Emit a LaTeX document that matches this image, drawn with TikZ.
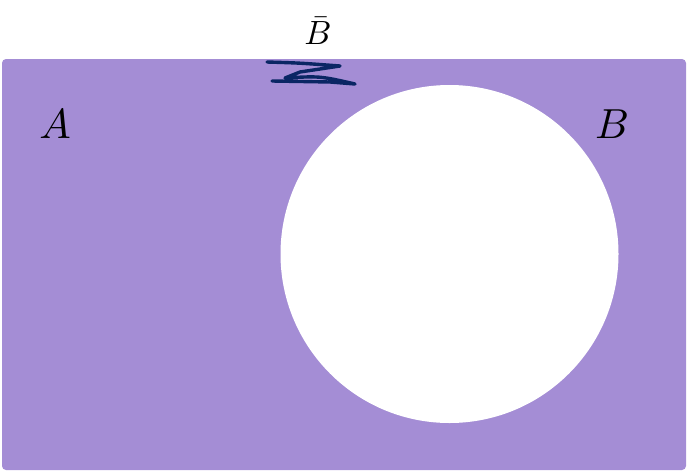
\documentclass[tikz,border=0pt]{standalone}
\usepackage{amsmath,amssymb}
\usepackage{xcolor}
\usepackage{tikz}
\usetikzlibrary{calc}
\definecolor{setpurple}{RGB}{164,141,213}
\definecolor{inkblue}{RGB}{10,38,100}

\begin{document}
\begin{tikzpicture}[x=1pt,y=-1pt,every node/.style={scale=4.2}]
\useasboundingbox (0,0) rectangle (687,472);
\fill[setpurple,rounded corners=4pt] (2,59) rectangle (686,470);
\fill[white] (449.5,254) circle (169);
\node (A) at (55,124) {$A$};
\node (B) at (612,124) {$B$};
\node[scale=0.8] (Bbar) at (318,31) {$\bar{B}$};
\draw[inkblue,line width=3.4pt,line cap=round,line join=round]
  (267,62) .. controls (300,63) .. (340,66) -- (300,72) -- (285,78)
  .. controls (320,76) .. (355,84) -- (330,82) -- (272,81);
\end{tikzpicture}
\end{document}
